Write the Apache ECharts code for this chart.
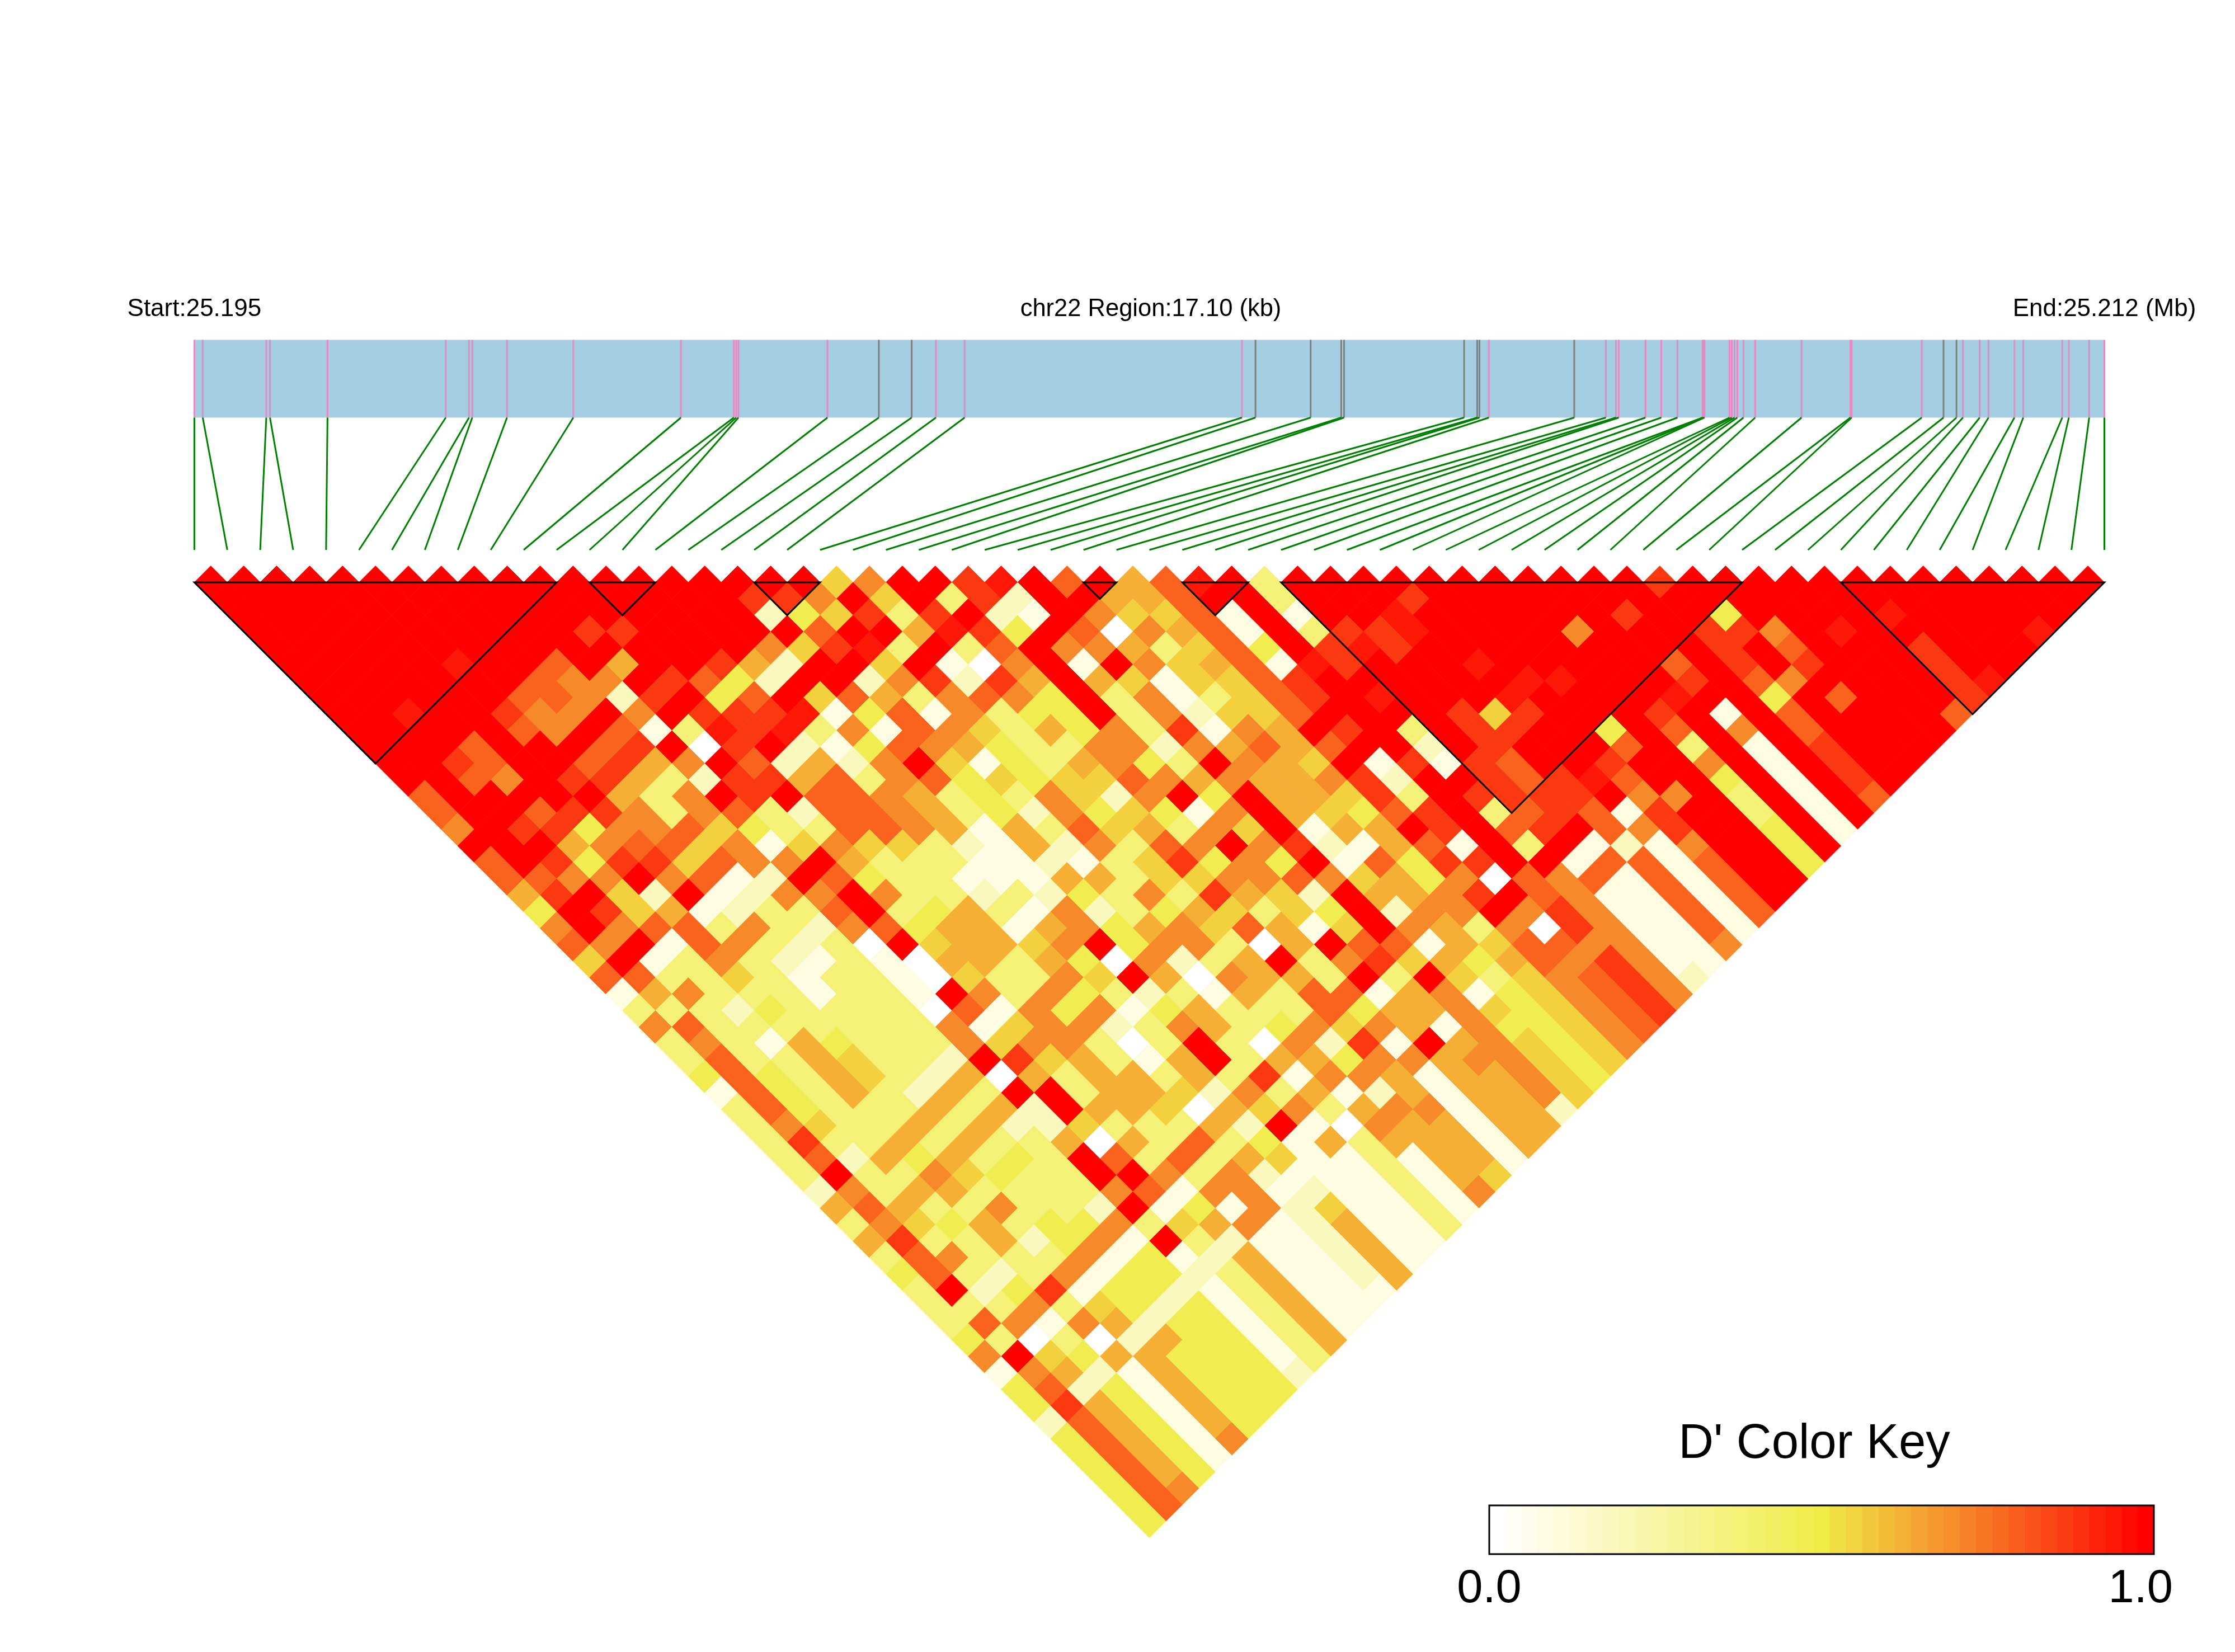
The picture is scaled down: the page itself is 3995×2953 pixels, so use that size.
<!DOCTYPE html>
<html><head><meta charset="utf-8">
<style>html,body{margin:0;padding:0;background:#fff}#c{width:3995px;height:2953px}</style>
<script src="https://cdn.jsdelivr.net/npm/echarts@6/dist/echarts.min.js"></script>
</head><body><div id="c"></div>
<script>
// SNP positions in kb from the region start
const snpKb = [0,0.075,0.644,0.677,1.192,2.251,2.459,2.488,2.799,3.393,4.356,4.830,4.851,4.871,5.668,6.128,6.422,6.639,6.896,9.379,9.500,9.994,10.268,10.293,11.368,11.485,11.505,11.589,12.354,12.637,12.727,12.752,12.992,13.133,13.278,13.504,13.512,13.520,13.744,13.764,13.789,13.814,13.869,13.974,14.389,14.826,14.838,15.465,15.660,15.776,15.834,15.984,16.063,16.295,16.374,16.723,16.782,16.964,17.100];
const graySnps = [15,16,20,21,22,23,24,25,26,28,48,49];
const regionKb = 17.10;
// LD blocks: first and last SNP index
const blocks = [[0,11],[12,14],[17,19],[27,28],[30,32],[33,47],[50,58]];
// D' level codes
const levelValues = {'0':0,'1':0.08,'2':0.18,'3':0.37,'4':0.47,'5':0.56,'6':0.63,'7':0.71,'8':0.79,'9':0.88,'r':0.95,'x':1};
// D' per row of the triangle: row k holds the pairs (i, i+k), i = 0,1,...
const ldRows = [
"xxxxxxxxxx xxxxxxxxx5 7xx9rx8x68 rx3xxxxxxx xxxx9xxxxx xxxxxxxx",
"xxxxxxxxxx xxxxxx997x 5x392xx668 xx3xxx9xxx xxxxxxxxxx xxxxxxx",
"xxxxxxxxxx xxxxxx2459 39x21x7558 1x1xxrxxxx xx9xx4xxxx rxxxxx",
"xxxxxxxxxx 99xxxxx8xx 6r94x80768 1x399rxxxx 7xxx997xrx xxxxr",
"xxxxxxxxxx xxxxx759r3 x38x776358 4x9r9xxxxx xxxx9x8xxx 9xxx",
"xxxxxrxx8x 6xx962xx5x 107x1x7568 1r9xxxrxxx xx8x9x9xxx 9xx",
"xxxxxxx877 x9842xx279 296x651558 9xxxxxxrrx xx9x87xxxx 9r",
"xxxxxx8872 9x48x58637 874x371358 9xrxxxrxxx xrxx4x8xxx 9",
"xxrxx977x7 x999r14817 344x372558 xxxx959xxx 9x1x8xxxx8",
"xxxxx87x81 3r9r371875 364739176x 9x3x99xx4x 8x7x8xxxx",
"xxx8xxx89x 09x2148764 3377276868 xx2x9xxx8x 3x1x9xxx",
"xx98xx8967 x82627x514 36743x765x 19198xx9xx 7x1x9xx",
"xx87x99632 9968378454 5587676679 2xx989r8xx 4x1x9x",
"8xxxxx637x 9x88763437 527x4x6659 3x9999x77x 3x1x8",
"8xx8997378 3288763427 45417x6548 9x389819xx 3x1x",
"7x99477854 3388761638 56375x166x 9x89x879xx 4x1",
"xxx6788571 5755321627 387x792168 1x3x1217xx 4x",
"8x94995877 x633311213 59474x1849 9xx18818xx 4",
"8877x7812x 8433111663 5577875647 08781818xx",
"69x52x1277 x733232437 39652x6679 x8711818x",
"4x95612338 x346317234 65354x277x 79711818",
"7x78837327 8466167467 58615x7637 0971181",
"87x1873230 x56657x477 306x881658 877117",
"5x13732131 0663640723 6x37956468 79711",
"8833531331 053375x607 663x3x5357 8972",
"1673331331 x737432316 3881671457 897",
"3332433330 8174714633 3846675457 89",
"7833333337 1577237634 7576174457 8",
"3731643337 577303x307 291x675457",
"383365332x 956316x366 477677545",
"4843653260 6366363917 76166754",
"184363263x x366527361 2616675",
"3843336362 x665065736 771662",
"3753363622 533362x107 66166",
"3933636336 0638341636 6616",
"382646343x 8383651131 661",
"3x3375433x x737211131 65",
"2736633337 8177121131 7",
"686337332x 1417251131",
"3754634473 567126113",
"693362471x 32112611",
"3873337141 2611261",
"4832371442 361126",
"3x24914421 36111",
"3337354241 3611",
"3871762441 361",
"4303026441 36",
"7x54664441 3",
"1762164442",
"482416444",
"49641644",
"2864164",
"486417",
"48641",
"4864",
"487",
"48",
"4"
];
const keyBins = 41;
const keyTicks = [[0,'0.0'],[0.98,'1.0']];

const N = snpKb.length;
const cells = [];
ldRows.forEach((row, k) => {
  const s = row.replace(/ /g,'');
  if (s.length !== N-1-k) console.error('row '+(k+1)+' has '+s.length+' expected '+(N-1-k));
  for (let i=0;i<s.length;i++) cells.push([i, k+1, levelValues[s[i]]]);
});
const mix=(a,b,t)=>a.map((v,n)=>Math.round(v+(b[n]-v)*t));
function ldColor(v){
  const c = v<=0.5 ? mix([255,255,255],[240,236,70],v/0.5) : mix([240,236,70],[255,0,0],(v-0.5)/0.5);
  return 'rgb('+c.join(',')+')';
}
const keyData=[]; for(let b=0;b<keyBins;b++) keyData.push([b/keyBins,(b+1)/keyBins,b/(keyBins-1)]);

const X0=347.4,X1=3761.5;
const font='"Liberation Sans",Arial,sans-serif';
const hiddenAxis=(o)=>Object.assign({type:'value',show:false,splitLine:{show:false}},o);

const chart=echarts.init(document.getElementById('c'),null,{renderer:'canvas',width:3995,height:2953});
chart.setOption({
  animation:false,
  backgroundColor:'#fff',
  grid:[
    {left:X0,width:X1-X0,top:1011.55,height:1737.1},     // triangle
    {left:X0,width:X1-X0,top:607.5,height:375.5},        // track and links
    {left:2662,width:1188,top:2691,height:87}            // colour key
  ],
  xAxis:[
    hiddenAxis({gridIndex:0,min:0,max:N-1}),
    hiddenAxis({gridIndex:1,min:0,max:regionKb}),
    hiddenAxis({gridIndex:2,min:0,max:1})
  ],
  yAxis:[
    hiddenAxis({gridIndex:0,min:-1,max:N-1,inverse:true}),
    hiddenAxis({gridIndex:1,min:0,max:375.5,inverse:true}),
    hiddenAxis({gridIndex:2,min:0,max:1})
  ],
  graphic:[
    {type:'text',x:X0,y:553,style:{text:'Start:25.195',font:'44px '+font,fill:'#000',textAlign:'center',textVerticalAlign:'middle'}},
    {type:'text',x:2057,y:553,style:{text:'chr22 Region:17.10 (kb)',font:'43.5px '+font,fill:'#000',textAlign:'center',textVerticalAlign:'middle'}},
    {type:'text',x:X1,y:553,style:{text:'End:25.212 (Mb)',font:'44px '+font,fill:'#000',textAlign:'center',textVerticalAlign:'middle'}},
    {type:'text',x:3243,y:2582,style:{text:"D' Color Key",font:'87px '+font,fill:'#000',textAlign:'center',textVerticalAlign:'middle'}}
  ],
  series:[
    {type:'custom',xAxisIndex:1,yAxisIndex:1,data:[[0,regionKb]],silent:true,clip:false,z:1,
     renderItem:(p,api)=>{const a=api.coord([api.value(0),0]),b=api.coord([api.value(1),139]);
       return {type:'rect',shape:{x:a[0],y:a[1],width:b[0]-a[0],height:b[1]-a[1]},style:{fill:'#A6CEE3'}};}},
    {type:'custom',xAxisIndex:1,yAxisIndex:1,data:snpKb.map((v,i)=>[v,i]),silent:true,clip:false,z:2,progressive:0,
     renderItem:(p,api)=>{const kb=api.value(0),k=api.value(1);
       const a=api.coord([kb,0]),b=api.coord([kb,139]),c=api.coord([k*regionKb/(N-1),375.5]);
       return {type:'group',children:[
         {type:'line',shape:{x1:a[0],y1:a[1],x2:b[0],y2:b[1]},style:{stroke:graySnps.includes(k)?'#808080':'#E78AC3',lineWidth:3}},
         {type:'line',shape:{x1:b[0],y1:b[1],x2:c[0],y2:c[1]},style:{stroke:'#008000',lineWidth:3}}
       ]};}},
    {type:'custom',xAxisIndex:0,yAxisIndex:0,data:cells,silent:true,clip:false,z:3,progressive:0,
     renderItem:(p,api)=>{const i=api.value(0),d=api.value(1),cx=i+d/2,cy=d-1;
       const pts=[[cx,cy-1],[cx+0.5,cy],[cx,cy+1],[cx-0.5,cy]].map(q=>api.coord(q));
       const col=ldColor(api.value(2));
       return {type:'polygon',shape:{points:pts},style:{fill:col,stroke:col,lineWidth:1}};}},
    {type:'custom',xAxisIndex:0,yAxisIndex:0,data:blocks,silent:true,clip:false,z:4,progressive:0,
     renderItem:(p,api)=>{const a=api.value(0),b=api.value(1);
       const pts=[[a,0],[b,0],[(a+b)/2,b-a]].map(q=>api.coord(q));
       return {type:'polygon',shape:{points:pts},style:{fill:'none',stroke:'#000',lineWidth:3,lineJoin:'miter'}};}},
    {type:'custom',xAxisIndex:2,yAxisIndex:2,data:keyData,silent:true,clip:false,z:5,progressive:0,
     renderItem:(p,api)=>{const a=api.coord([api.value(0),1]),b=api.coord([api.value(1),0]);
       return {type:'rect',shape:{x:a[0],y:a[1],width:b[0]-a[0]+0.5,height:b[1]-a[1]},style:{fill:ldColor(api.value(2))}};}},
    {type:'custom',xAxisIndex:2,yAxisIndex:2,data:[[0,1]],silent:true,clip:false,z:6,
     renderItem:(p,api)=>{const a=api.coord([0,1]),b=api.coord([1,0]);
       return {type:'rect',shape:{x:a[0],y:a[1],width:b[0]-a[0],height:b[1]-a[1]},style:{fill:'none',stroke:'#000',lineWidth:3}};}},
    {type:'custom',xAxisIndex:2,yAxisIndex:2,data:keyTicks.map(t=>[t[0]]),silent:true,clip:false,z:6,
     renderItem:(p,api)=>{const a=api.coord([api.value(0),0]);
       return {type:'text',x:a[0],y:a[1]+63,style:{text:keyTicks[p.dataIndex][1],font:'83px '+font,fill:'#000',textAlign:'center',textVerticalAlign:'middle'}};}}
  ]
});
</script></body></html>
